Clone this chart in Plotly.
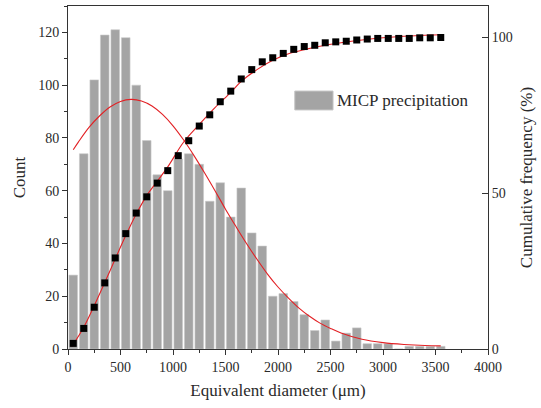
import plotly.graph_objects as go

# ---- data ----
bin_centers = [50, 150, 250, 350, 450, 550, 650, 750, 850, 950, 1050, 1150,
               1250, 1350, 1450, 1550, 1650, 1750, 1850, 1950, 2050, 2150,
               2250, 2350, 2450, 2550, 2650, 2750, 2850, 2950, 3050, 3150,
               3250, 3350, 3450, 3550]
counts = [28, 74, 102, 119, 121, 118, 100, 79, 66, 60, 72, 74,
          70, 56, 63, 50, 61, 44, 39, 20, 21, 18,
          13, 7, 11, 3, 6, 8, 2, 2, 2, 0,
          1, 1, 1, 1]
cum_pct = [1.8, 6.6, 13.4, 21.2, 29.2, 37.0, 43.6, 48.8, 53.2, 57.2, 62.0, 66.8,
           71.5, 75.1, 79.3, 82.7, 86.6, 89.6, 92.1, 93.4, 94.8, 96.1,
           97.0, 97.4, 98.2, 98.5, 98.7, 99.1, 99.4, 99.6, 99.6, 99.6,
           99.6, 99.8, 99.8, 99.9]

fit_x = [50, 100, 200, 300, 400, 500, 600, 700, 800, 900, 1000, 1100, 1200,
         1300, 1400, 1500, 1600, 1700, 1800, 1900, 2000, 2100, 2200, 2300,
         2400, 2500, 2600, 2800, 3000, 3200, 3400, 3550]
fit_y = [75.5, 78.5, 84.0, 88.3, 91.7, 93.8, 94.6, 94.0, 92.1, 88.9, 84.6, 79.3,
         73.3, 66.8, 60.0, 53.0, 46.4, 40.0, 34.0, 28.4, 23.5, 19.3, 15.5, 12.4,
         9.8, 7.8, 6.1, 3.7, 2.4, 1.7, 1.3, 1.2]

cumfit_x = [35, 150, 250, 350, 450, 550, 650, 750, 850, 950, 1100, 1250, 1400,
            1550, 1650, 1800, 1950, 2100, 2250, 2400, 2600, 2800, 3000, 3200,
            3400, 3550]
cumfit_y = [0.7, 7.0, 13.9, 21.3, 28.9, 36.4, 43.3, 49.2, 53.8, 58.4, 66.3, 72.0,
            77.4, 82.3, 85.8, 89.6, 92.6, 94.7, 96.0, 97.1, 98.2, 99.1, 99.8,
            100.3, 100.6, 100.8]

x_ticks = [0, 500, 1000, 1500, 2000, 2500, 3000, 3500, 4000]
left_ticks = [0, 20, 40, 60, 80, 100, 120]
right_ticks = [0, 50, 100]

FONT = "Liberation Serif"
TXT = "#2a2a2a"
AX = "#333333"
RED = "rgb(226,32,36)"
GREY = "#a4a4a4"

fig = go.Figure()

fig.add_trace(go.Bar(
    x=bin_centers, y=counts, name="MICP precipitation",
    marker=dict(color=GREY, line=dict(color="#c9c9c9", width=0.6)),
    showlegend=False,
))
fig.add_trace(go.Scatter(
    x=fit_x, y=fit_y, mode="lines", line=dict(color=RED, width=1.1, shape="spline"),
    showlegend=False,
))
fig.add_trace(go.Scatter(
    x=cumfit_x, y=cumfit_y, mode="lines", yaxis="y2",
    line=dict(color=RED, width=1.1, shape="spline"), showlegend=False,
))
fig.add_trace(go.Scatter(
    x=bin_centers, y=cum_pct, mode="markers", yaxis="y2",
    marker=dict(symbol="square", size=7, color="black"), showlegend=False,
))

# legend swatch + text
fig.add_shape(type="rect", xref="paper", yref="paper",
              x0=0.540, x1=0.631, y0=0.697, y1=0.752,
              fillcolor=GREY, line=dict(color="#c4c4c4", width=1))
fig.add_annotation(text="MICP precipitation", xref="paper", yref="paper",
                   x=0.636, y=0.724, xanchor="left", yanchor="middle",
                   showarrow=False, font=dict(family=FONT, size=17, color=TXT))

tickfont = dict(family=FONT, size=14, color=TXT)
titlefont = dict(family=FONT, size=17, color=TXT)

fig.update_layout(
    width=541, height=408,
    margin=dict(l=68, r=53, t=6, b=59, autoexpand=False),
    plot_bgcolor="white", paper_bgcolor="white",
    bargap=0.18,
    xaxis=dict(
        range=[0, 4000], tickvals=x_ticks, ticktext=[str(v) for v in x_ticks],
        ticks="outside", ticklen=5, tickcolor=AX, tickwidth=1,
        minor=dict(dtick=250, ticks="outside", ticklen=3, tickcolor=AX),
        showline=True, linecolor=AX, linewidth=1, mirror=True,
        showgrid=False, zeroline=False, tickfont=tickfont, automargin=False,
        title=dict(text="Equivalent diameter (μm)", font=titlefont, standoff=10),
    ),
    yaxis=dict(
        range=[0, 130], tickvals=left_ticks, ticktext=[str(v) for v in left_ticks],
        ticks="outside", ticklen=5, tickcolor=AX, tickwidth=1,
        minor=dict(dtick=10, ticks="outside", ticklen=3, tickcolor=AX),
        showline=True, linecolor=AX, linewidth=1, automargin=False,
        showgrid=False, zeroline=False, tickfont=tickfont,
        title=dict(text="Count", font=titlefont, standoff=8),
    ),
    yaxis2=dict(
        range=[0, 110], tickvals=right_ticks, ticktext=[str(v) for v in right_ticks],
        overlaying="y", side="right", automargin=False,
        ticks="inside", ticklen=6, tickcolor=AX, tickwidth=1,
        showline=True, linecolor=AX, linewidth=1,
        showgrid=False, zeroline=False, tickfont=tickfont,
        title=dict(text="Cumulative frequency (%)", font=titlefont, standoff=8),
    ),
)

fig.write_html("out.html", config={"displayModeBar": False},
               post_script="document.body.style.margin='0';")
